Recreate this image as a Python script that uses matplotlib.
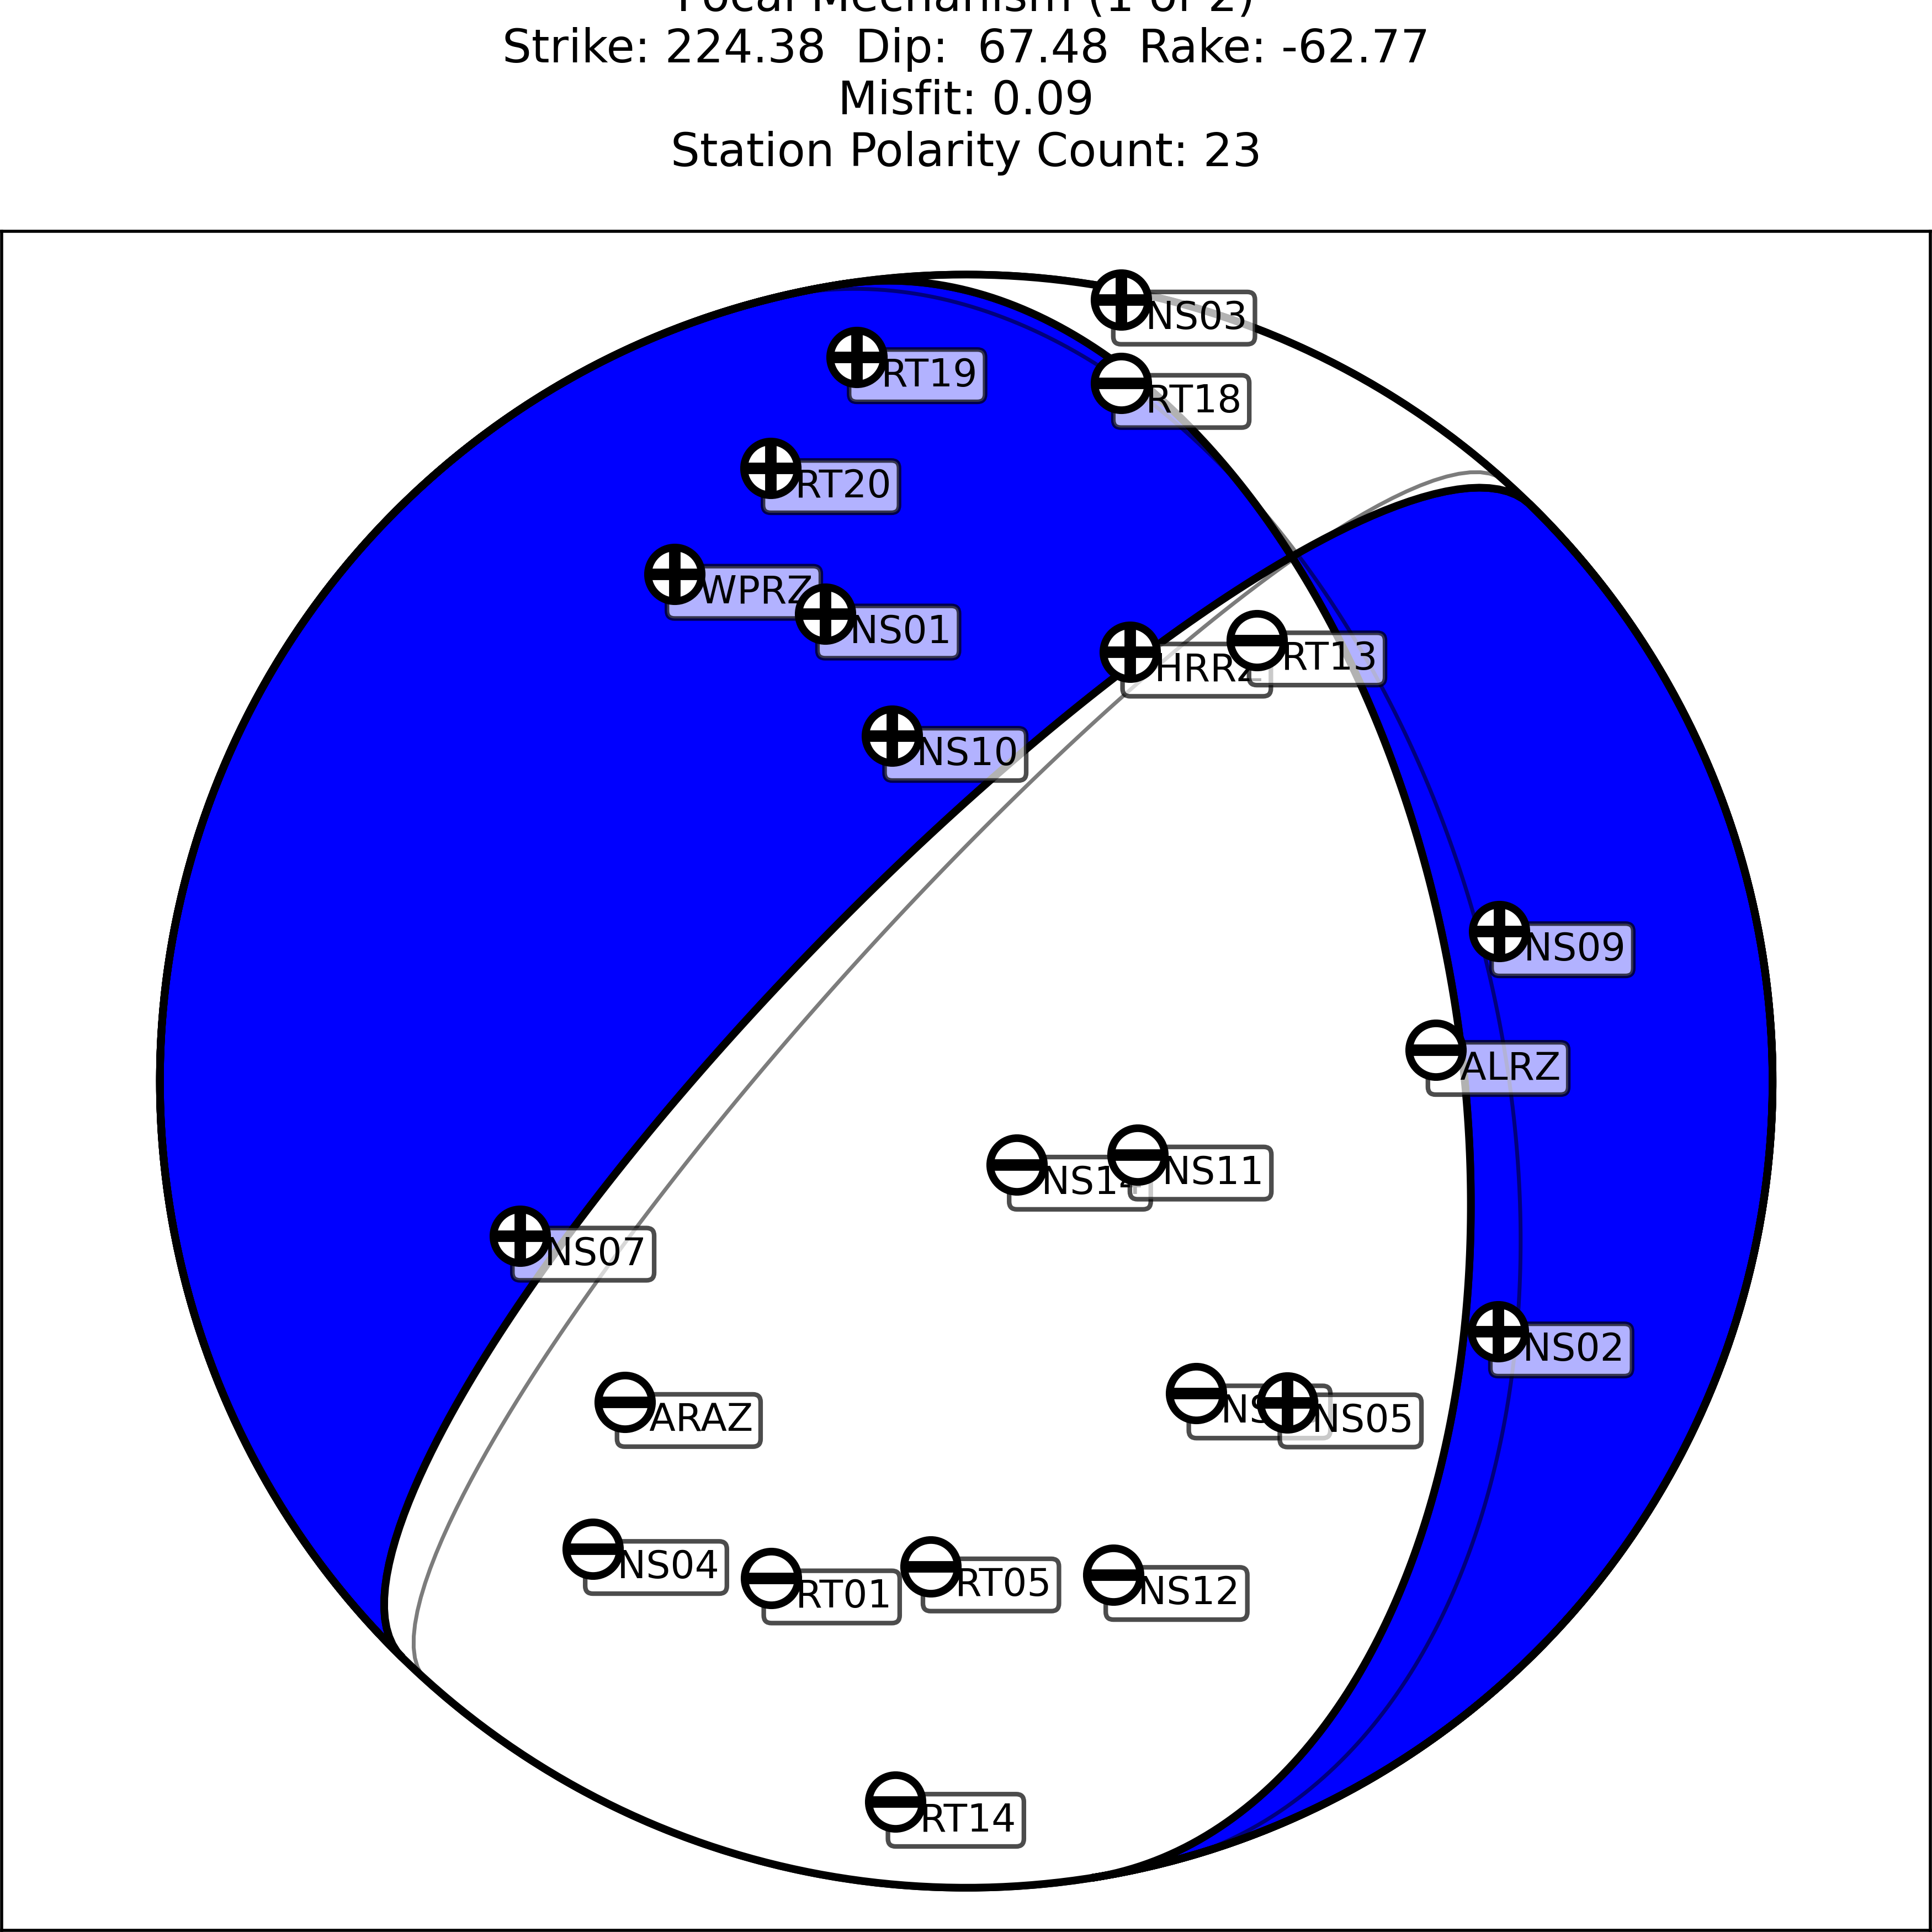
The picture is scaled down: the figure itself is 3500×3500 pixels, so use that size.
import numpy as np
import matplotlib
matplotlib.use('Agg')
import matplotlib.pyplot as plt
from matplotlib.patches import Polygon, Circle

#### mechanism values ####
strike, dip, rake = 224.38, 67.48, -62.77
misfit = 0.09
alt_strike, alt_dip, alt_rake = 222.0, 72.0, -65.0   # second solution

#### station polarities (azimuth, takeoff in deg) ####
stations = ['NS03', 'RT18', 'RT19', 'RT20', 'WPRZ', 'NS01', 'NS10', 'HRRZ', 'RT13',
            'NS09', 'ALRZ', 'NS14', 'NS11', 'NS07', 'ARAZ', 'NS02', 'NS13', 'NS05',
            'NS04', 'RT01', 'RT05', 'NS12', 'RT14']
azimuth = [11.2, 12.5, 351.4, 342.3, 330.1, 343.2, 347.9, 20.9, 33.4,
           74.3, 86.2, 148.8, 113.2, 250.9, 226.8, 115.2, 143.6, 135.0,
           218.6, 201.4, 184.2, 163.4, 185.6]
takeoff = [88.9, 79.8, 81.7, 71.8, 65.3, 54.5, 39.4, 51.3, 58.9,
           61.8, 52.5, 10.9, 20.8, 52.7, 52.3, 65.6, 43.3, 50.7,
           66.8, 59.6, 54.3, 57.5, 80.8]
polarity = [1, -1, 1, 1, 1, 1, 1, 1, -1,
            1, -1, -1, -1, 1, -1, 1, -1, 1,
            -1, -1, -1, -1, -1]

D2R = np.pi / 180


def aux_plane(s1, d1, r1):
    s, d, r = s1 * D2R, d1 * D2R, r1 * D2R
    # slip vector (north, east, down) is the normal of the auxiliary plane
    sv = np.array([np.cos(r) * np.cos(s) + np.sin(r) * np.cos(d) * np.sin(s),
                   np.cos(r) * np.sin(s) - np.sin(r) * np.cos(d) * np.cos(s),
                   -np.sin(r) * np.sin(d)])
    if sv[2] > 0:
        sv = -sv
    d2 = np.arccos(-sv[2]) / D2R
    s2 = (np.arctan2(-sv[0], sv[1]) / D2R) % 360
    return s2, d2


def pol2cart(th, r):
    return r * np.cos(th), r * np.sin(th)


def dc_paths(s1, d1, r1):
    M = 0
    if r1 > 180:
        r1 -= 180
        M = 1
    if r1 < 0:
        r1 += 180
        M = 1
    s2, d2 = aux_plane(s1, d1, r1)
    d1 = min(d1, 89.9999)
    d2 = min(d2, 89.9999)
    phi = np.arange(0, np.pi, .01)
    l1 = np.sqrt((90 - d1) ** 2 / (np.sin(phi) ** 2 + np.cos(phi) ** 2 * (90 - d1) ** 2 / 8100))
    l2 = np.sqrt((90 - d2) ** 2 / (np.sin(phi) ** 2 + np.cos(phi) ** 2 * (90 - d2) ** 2 / 8100))
    out = []
    for m in ((M + 1) % 2, M):
        inc = 1
        Y1, X1 = pol2cart(phi + s1 * D2R, l1)
        if m == 1:
            lo, hi = s1 - 180, s2
            if lo > hi:
                inc = -1
            th1 = np.arange(s1 - 180, s2, inc)
            Y2, X2 = pol2cart(phi + s2 * D2R, l2)
            th2 = np.arange(s2 + 180, s1, -inc)
        else:
            hi, lo = s1 - 180, s2 - 180
            if lo > hi:
                inc = -1
            th1 = np.arange(hi, lo, -inc)
            Y2, X2 = pol2cart(phi + s2 * D2R, l2)
            X2, Y2 = X2[::-1], Y2[::-1]
            th2 = np.arange(s2, s1, inc)
        Yc1, Xc1 = pol2cart(th1 * D2R, 90 * np.ones(len(th1)))
        Yc2, Xc2 = pol2cart(th2 * D2R, 90 * np.ones(len(th2)))
        Y = np.concatenate((Y1, Yc1, Y2, Yc2)) / 90
        X = np.concatenate((X1, Xc1, X2, Xc2)) / 90
        out.append(np.column_stack([X, Y]))
    return out  # first = tension (filled), second = pressure


fig = plt.figure(figsize=(7, 7), dpi=500)
ax = fig.add_axes([0.0008, 0.0008, 0.9984, 0.8795])
ax.set_xlim(-1.1964, 1.1958)
ax.set_ylim(-1.0530, 1.0537)
ax.set_xticks([])
ax.set_yticks([])

# main solution
ax.add_patch(Circle((0, 0), 1, facecolor='w', edgecolor='k', lw=2, zorder=1))
paths = dc_paths(strike, dip, rake)
for p, c in zip(paths, ['b', 'w']):
    ax.add_patch(Polygon(p, closed=True, facecolor=c, edgecolor='k', lw=2, zorder=2))

# second solution, outlines only (both paths trace the same lines, so keep alpha low)
for p in dc_paths(alt_strike, alt_dip, alt_rake):
    ax.add_patch(Polygon(p, closed=True, facecolor='none', edgecolor='k', lw=1, alpha=0.3, zorder=3))

# stations
r = np.array(takeoff) / 90
x = r * np.sin(np.array(azimuth) * D2R)
y = r * np.cos(np.array(azimuth) * D2R)
pol = np.array(polarity)
for i, name in enumerate(stations):
    ax.text(x[i], y[i], '  ' + name, fontsize=10, ha='left', va='top', zorder=5,
            bbox=dict(boxstyle='round,pad=0.2', fc='white', ec='black', alpha=0.7, lw=1.2))
ax.plot(x, y, 'o', ms=14, mfc='w', mec='k', mew=2, zorder=10)
ax.plot(x[pol > 0], y[pol > 0], '+', ms=14, mec='k', mew=3, zorder=11)
ax.plot(x[pol < 0], y[pol < 0], '_', ms=14, mec='k', mew=3, zorder=11)

ax.set_title('Focal Mechanism (1 of 2)\n'
             'Strike: %6.2f  Dip: %6.2f  Rake: %6.2f\n'
             'Misfit: %.2f\n'
             'Station Polarity Count: %d' % (strike, dip, rake, misfit, len(stations)),
             fontsize=12, pad=17)

fig.savefig('out.png', dpi=500)
